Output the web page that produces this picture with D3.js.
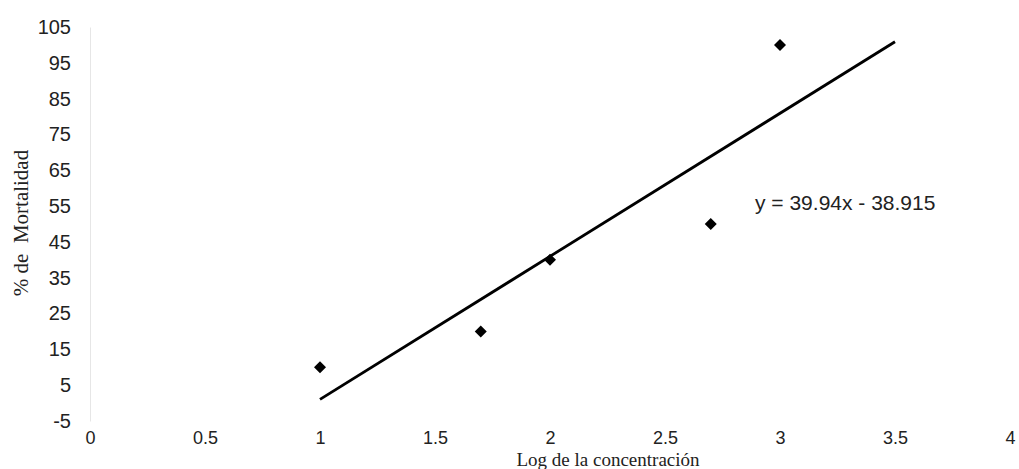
<!DOCTYPE html>
<html>
<head>
<meta charset="utf-8">
<script src="https://cdn.jsdelivr.net/npm/d3@7"></script>
<style>
  html, body { margin: 0; padding: 0; background: #fff; }
  svg { display: block; }
</style>
</head>
<body>
<div id="chart"></div>
<script>
// Data
const logConc = [1, 1.699, 2, 2.699, 3];
const mortality = [10, 20, 40, 50, 100];
const xTicks = [0, 0.5, 1, 1.5, 2, 2.5, 3, 3.5, 4];
const yTicks = [-5, 5, 15, 25, 35, 45, 55, 65, 75, 85, 95, 105];
const trendSlope = 39.94;
const trendIntercept = -38.915;
const trendRange = [1, 3.5];
const equationLabel = "y = 39.94x - 38.915";

const width = 1019, height = 469;

const svg = d3.select("#chart").append("svg")
  .attr("width", width)
  .attr("height", height);

const x = d3.scaleLinear().domain([0, 4]).range([90, 1010]);
const y = d3.scaleLinear().domain([-5, 105]).range([421, 27]);

// plain hyphen for negatives, like the original
const plain = d => String(d);

// faint axis (scanned image barely shows it)
const yAxis = svg.append("g")
  .attr("transform", `translate(${x(0)},0)`)
  .call(d3.axisLeft(y).tickValues(yTicks).tickSize(0).tickPadding(19).tickFormat(plain));
yAxis.select(".domain").attr("stroke", "#e6e6e6").attr("stroke-width", 1);
yAxis.selectAll("text")
  .attr("font-family", "Liberation Sans, Arial, sans-serif")
  .attr("font-size", 20)
  .attr("fill", "#222");

const xAxis = svg.append("g")
  .attr("transform", `translate(0,${y(-5)})`)
  .call(d3.axisBottom(x).tickValues(xTicks).tickSize(0).tickPadding(10).tickFormat(plain));
xAxis.select(".domain").remove();
xAxis.selectAll("text")
  .attr("font-family", "Liberation Sans Narrow, Liberation Sans, Arial, sans-serif")
  .attr("font-size", 18)
  .attr("fill", "#222");

// trendline
const trend = trendRange.map(v => [v, trendSlope * v + trendIntercept]);
svg.append("path")
  .datum(trend)
  .attr("fill", "none")
  .attr("stroke", "#000")
  .attr("stroke-width", 2.8)
  .attr("d", d3.line().x(d => x(d[0])).y(d => y(d[1])));

// diamond markers
svg.selectAll(".pt")
  .data(logConc.map((v, i) => [v, mortality[i]]))
  .enter()
  .append("path")
  .attr("class", "pt")
  .attr("d", d3.symbol(d3.symbolSquare, 72))
  .attr("transform", d => `translate(${x(d[0])},${y(d[1])}) rotate(45)`)
  .attr("fill", "#000");

// equation
svg.append("text")
  .attr("x", 755)
  .attr("y", 210)
  .attr("font-family", "Liberation Sans, Arial, sans-serif")
  .attr("font-size", 21)
  .attr("fill", "#222")
  .text(equationLabel);

// axis titles
svg.append("text")
  .attr("x", 608)
  .attr("y", 466)
  .attr("text-anchor", "middle")
  .attr("font-family", "Liberation Serif, Times New Roman, serif")
  .attr("font-size", 19)
  .attr("fill", "#222")
  .text("Log de la concentración");

svg.append("text")
  .attr("transform", "translate(28,223) rotate(-90)")
  .attr("text-anchor", "middle")
  .attr("font-family", "Liberation Serif, Times New Roman, serif")
  .attr("font-size", 21)
  .attr("fill", "#222")
  .style("white-space", "pre")
  .text("% de  Mortalidad");
</script>
</body>
</html>
